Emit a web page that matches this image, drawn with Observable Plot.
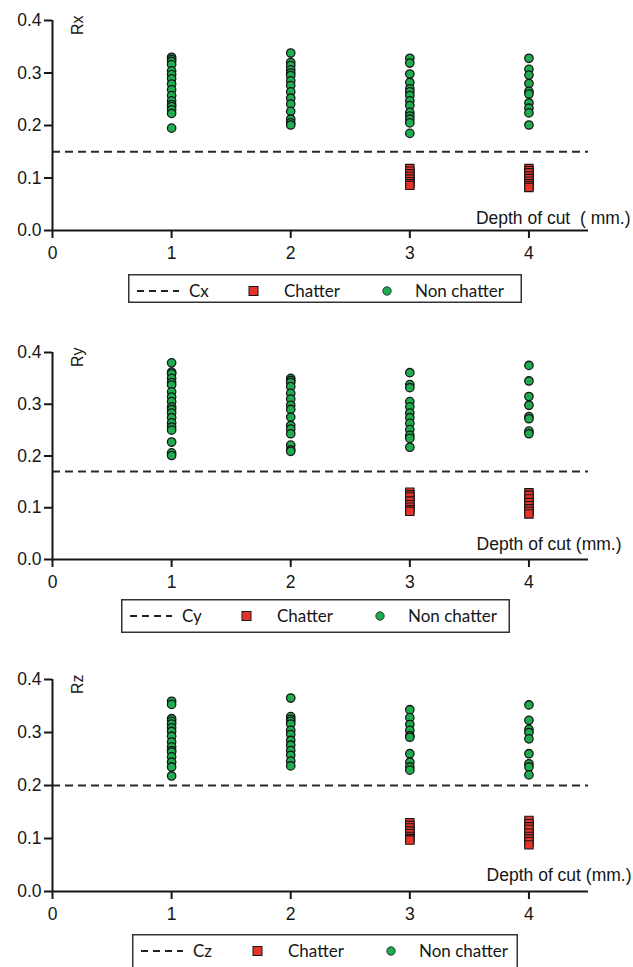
<!DOCTYPE html>
<html><head><meta charset="utf-8">
<script src="https://cdn.jsdelivr.net/npm/d3@7"></script>
<script src="https://cdn.jsdelivr.net/npm/@observablehq/plot@0.6"></script>
<style>
body{margin:0;background:#fff;}
#root{position:relative;width:633px;height:967px;overflow:hidden;background:#fff;}
.panel{position:absolute;left:0;}
.legend{position:absolute;}
</style></head>
<body><div id="root"></div>
<script>
// ---- data ----
const xTicks = [0, 1, 2, 3, 4];
const yTicks = [0, 0.1, 0.2, 0.3, 0.4];
const xLabels = ["Depth of cut  ( mm.)", "Depth of cut (mm.)", "Depth of cut (mm.)"];
const yLabels = ["Rx", "Ry", "Rz"];
const thresholdNames = ["Cx", "Cy", "Cz"];
const thresholds = [0.15, 0.17, 0.20];
const legendNames = ["Chatter", "Non chatter"];

// Rx
const rxNonD1 = [0.330, 0.326, 0.322, 0.316, 0.304, 0.297, 0.289, 0.279, 0.268, 0.257, 0.247, 0.240, 0.236, 0.230, 0.223, 0.195];
const rxNonD2 = [0.338, 0.320, 0.314, 0.306, 0.300, 0.295, 0.285, 0.276, 0.264, 0.252, 0.241, 0.227, 0.212, 0.205, 0.201];
const rxNonD3 = [0.328, 0.319, 0.298, 0.282, 0.270, 0.264, 0.257, 0.247, 0.238, 0.225, 0.218, 0.212, 0.205, 0.185];
const rxNonD4 = [0.328, 0.307, 0.296, 0.280, 0.265, 0.260, 0.243, 0.233, 0.224, 0.201];
const rxChatD3 = [0.118, 0.113, 0.108, 0.103, 0.098, 0.093, 0.089, 0.086];
const rxChatD4 = [0.118, 0.114, 0.110, 0.104, 0.099, 0.094, 0.089, 0.085, 0.082];
// Ry
const ryNonD1 = [0.380, 0.362, 0.359, 0.350, 0.342, 0.337, 0.324, 0.314, 0.305, 0.295, 0.290, 0.283, 0.274, 0.264, 0.256, 0.250, 0.227, 0.206, 0.201];
const ryNonD2 = [0.350, 0.346, 0.342, 0.334, 0.321, 0.310, 0.298, 0.290, 0.275, 0.259, 0.252, 0.243, 0.221, 0.212, 0.209];
const ryNonD3 = [0.361, 0.338, 0.332, 0.305, 0.295, 0.283, 0.274, 0.263, 0.251, 0.240, 0.234, 0.217];
const ryNonD4 = [0.375, 0.345, 0.315, 0.298, 0.276, 0.272, 0.248, 0.243];
const ryChatD3 = [0.130, 0.125, 0.121, 0.113, 0.106, 0.101, 0.096, 0.093];
const ryChatD4 = [0.129, 0.124, 0.117, 0.110, 0.104, 0.098, 0.093, 0.088];
// Rz
const rzNonD1 = [0.359, 0.353, 0.326, 0.321, 0.316, 0.309, 0.302, 0.293, 0.282, 0.273, 0.266, 0.263, 0.254, 0.244, 0.235, 0.218];
const rzNonD2 = [0.365, 0.330, 0.325, 0.321, 0.316, 0.304, 0.296, 0.285, 0.276, 0.266, 0.257, 0.246, 0.237];
const rzNonD3 = [0.343, 0.328, 0.315, 0.304, 0.294, 0.291, 0.260, 0.244, 0.235, 0.229];
const rzNonD4 = [0.352, 0.323, 0.306, 0.300, 0.288, 0.260, 0.241, 0.235, 0.220];
const rzChatD3 = [0.130, 0.125, 0.120, 0.114, 0.109, 0.104, 0.100, 0.097];
const rzChatD4 = [0.134, 0.128, 0.122, 0.117, 0.110, 0.104, 0.099, 0.094, 0.088];

// ---- style ----
const GREEN = "#1fae4f", RED = "#e5352a", INK = "#161616";
const W = 633;

function rows(depth, vals) { return vals.map(v => ({x: depth, y: v})); }

const panels = [
  {non: [rows(1, rxNonD1), rows(2, rxNonD2), rows(3, rxNonD3), rows(4, rxNonD4)].flat(),
   chat: [rows(3, rxChatD3), rows(4, rxChatD4)].flat(),
   top: 0, plotH: 210, xlabDx: 42, xlabDy: -12,
   leg: {left: 128, top: 274, width: 394, height: 29}},
  {non: [rows(1, ryNonD1), rows(2, ryNonD2), rows(3, ryNonD3), rows(4, ryNonD4)].flat(),
   chat: [rows(3, ryChatD3), rows(4, ryChatD4)].flat(),
   top: 332, plotH: 207, xlabDx: 33, xlabDy: -15,
   leg: {left: 121, top: 599, width: 389, height: 34}},
  {non: [rows(1, rzNonD1), rows(2, rzNonD2), rows(3, rzNonD3), rows(4, rzNonD4)].flat(),
   chat: [rows(3, rzChatD3), rows(4, rzChatD4)].flat(),
   top: 659, plotH: 212, xlabDx: 43, xlabDy: -16,
   leg: {left: 132, top: 934, width: 386, height: 40}}
];

const root = document.getElementById("root");

panels.forEach((p, i) => {
  const mt = 20, mb = 42;
  const chart = Plot.plot({
    width: W,
    height: mt + p.plotH + mb,
    marginTop: mt, marginBottom: mb, marginLeft: 52, marginRight: 45,
    x: {domain: [0, 4.5], label: null},
    y: {domain: [0, 0.4], label: null},
    style: {fontFamily: "'Liberation Sans', Arial, sans-serif", fontSize: "17px", color: INK, background: "transparent", overflow: "visible"},
    marks: [
      Plot.ruleY([thresholds[i]], {stroke: "#2a2a2a", strokeWidth: 2, strokeDasharray: "8,5"}),
      Plot.dot(p.chat, {x: "x", y: "y", symbol: "square", r: 4.7, fill: RED, stroke: INK, strokeWidth: 1.1}),
      Plot.dot(p.non, {x: "x", y: "y", r: 4.2, fill: GREEN, stroke: INK, strokeWidth: 1.3}),
      Plot.ruleX([0], {y1: 0, y2: 0.4, stroke: INK, strokeWidth: 2}),
      Plot.ruleY([0], {x1: 0, x2: 4.5, stroke: INK, strokeWidth: 2}),
      Plot.axisX({ticks: xTicks, tickFormat: d3.format("d"), tickSize: 8, tickPadding: 8, strokeWidth: 2, fontSize: 17.5, label: null}),
      Plot.axisY({ticks: yTicks, tickFormat: d3.format(".1f"), tickSize: 8, tickPadding: 3, strokeWidth: 2, fontSize: 17.5, label: null}),
      Plot.text([yLabels[i]], {frameAnchor: "top-left", dx: 25, dy: -5, rotate: -90, textAnchor: "end", lineAnchor: "middle", fontSize: 16, fill: INK}),
      Plot.text([xLabels[i]], {frameAnchor: "bottom-right", dx: p.xlabDx, dy: p.xlabDy, textAnchor: "end", lineAnchor: "middle", fontSize: 17.5, fill: INK})
    ]
  });
  chart.classList.add("panel");
  chart.style.top = p.top + "px";
  root.appendChild(chart);

  // legend box
  const L = p.leg;
  const cy = 17;
  const svg = d3.create("svg")
    .attr("class", "legend")
    .attr("width", L.width).attr("height", L.height)
    .style("left", L.left + "px").style("top", L.top + "px")
    .style("font-family", "Lato, 'Open Sans', sans-serif").style("font-size", "17px");
  svg.append("rect").attr("x", 0.75).attr("y", 0.75).attr("width", L.width - 1.5).attr("height", L.height - 1.5)
    .attr("fill", "white").attr("stroke", "#333").attr("stroke-width", 1.5);
  svg.append("line").attr("x1", 9).attr("x2", 51).attr("y1", cy).attr("y2", cy)
    .attr("stroke", "#222").attr("stroke-width", 2).attr("stroke-dasharray", "7,5");
  svg.append("text").attr("x", 61).attr("y", cy).attr("dy", "0.35em").attr("fill", INK).text(thresholdNames[i]);
  svg.append("rect").attr("x", 121).attr("y", cy - 4.5).attr("width", 9).attr("height", 9)
    .attr("fill", RED).attr("stroke", INK).attr("stroke-width", 1);
  svg.append("text").attr("x", 156).attr("y", cy).attr("dy", "0.35em").attr("fill", INK).text(legendNames[0]);
  svg.append("circle").attr("cx", 259).attr("cy", cy).attr("r", 4.2)
    .attr("fill", GREEN).attr("stroke", INK).attr("stroke-width", 0.8);
  svg.append("text").attr("x", 287).attr("y", cy).attr("dy", "0.35em").attr("fill", INK).text(legendNames[1]);
  root.appendChild(svg.node());
});
</script></body></html>
